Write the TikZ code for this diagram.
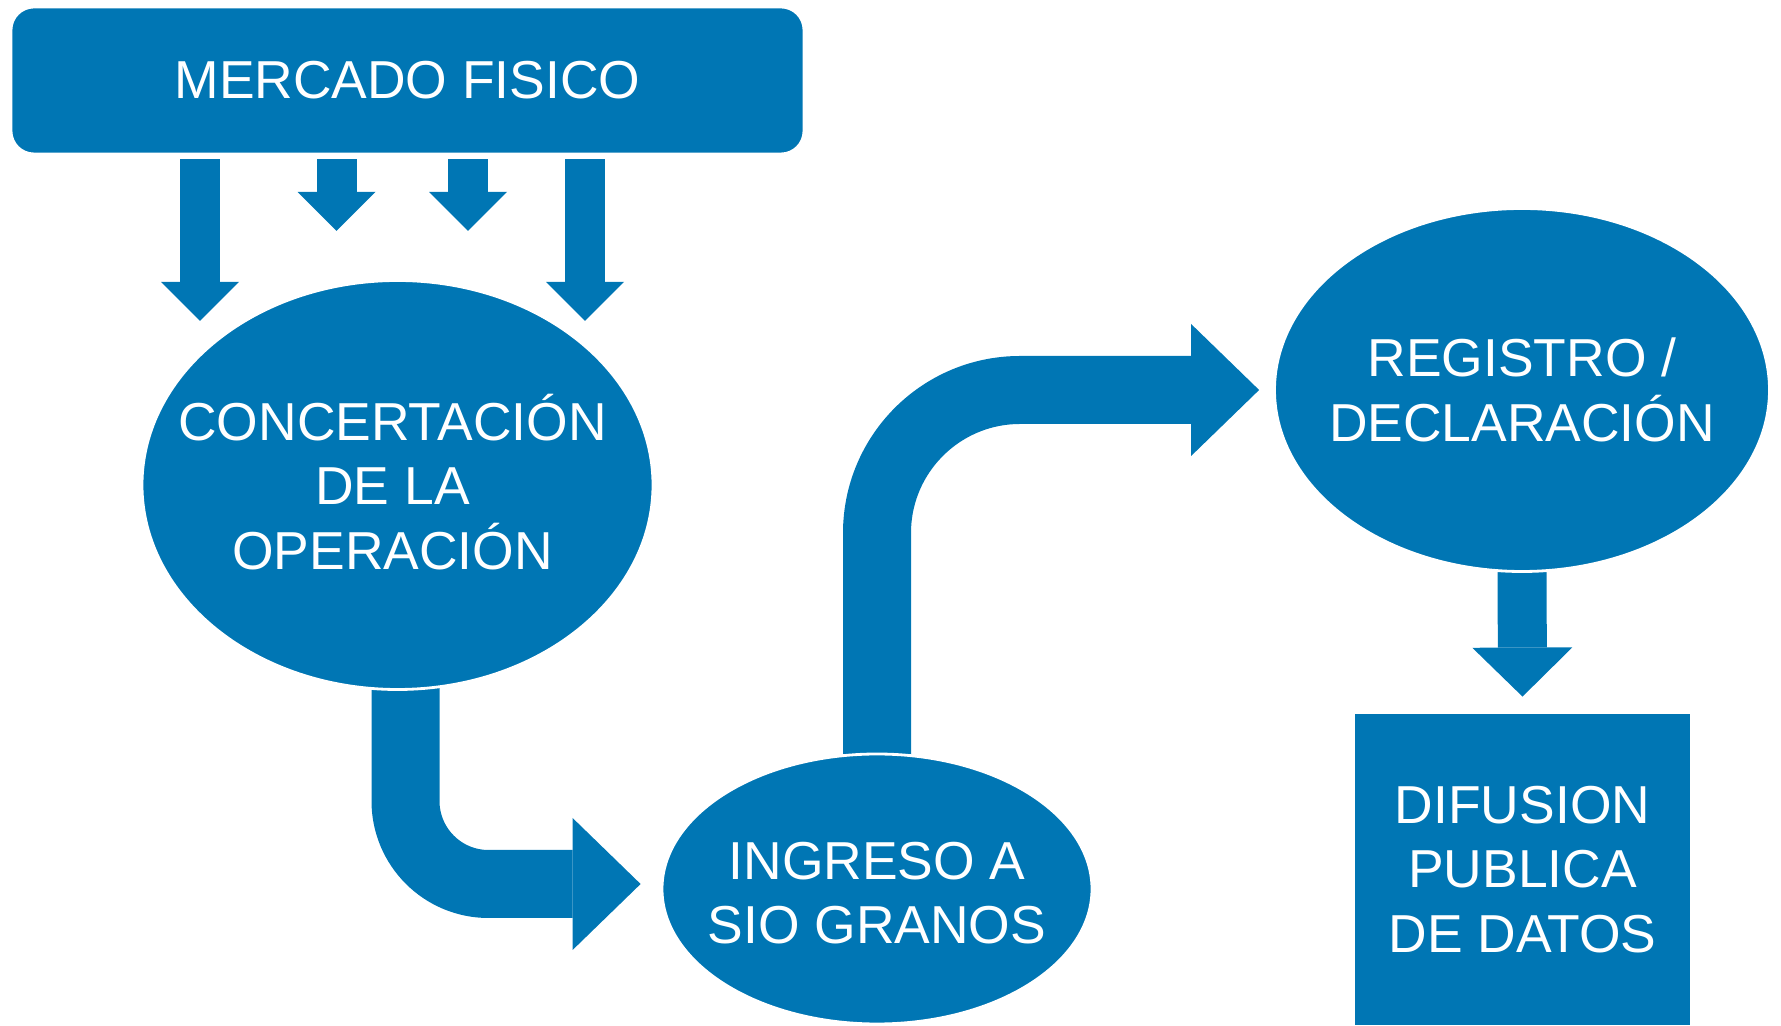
\documentclass[tikz,border=0pt]{standalone}
\usepackage{fontspec}
\setmainfont{Liberation Sans}
\usepackage{xcolor}
\usepackage{tikz}
\usetikzlibrary{shapes.geometric, arrows.meta, positioning, backgrounds}
\definecolor{sioblue}{RGB}{0, 118, 180}

\begin{document}
\begin{tikzpicture}[
    txt/.style={text=white, align=center, font=\fontsize{15.2}{18.4}\selectfont},
    box/.style={rectangle, fill=sioblue, draw=white, line width=0.8pt, inner sep=0pt, txt},
    oval/.style={ellipse, fill=sioblue, draw=white, line width=0.8pt, inner sep=0pt},
    downarr/.style={draw=sioblue, line width=0.40cm, -{Triangle[length=0.39cm, width=0.78cm, line width=0pt]}},
    midarr/.style={draw=sioblue, line width=0.49cm, -{Triangle[length=0.49cm, width=1.0cm, line width=0pt]}},
    bigarr/.style={draw=sioblue, line width=0.68cm, rounded corners=#1, -{Triangle[length=0.68cm, width=1.32cm, line width=0pt]}},
]
\useasboundingbox (0,0) rectangle (17.81,-10.26);

% Shapes
\node[box, rounded corners=0.23cm, minimum width=7.93cm, minimum height=1.47cm] (merc) at (4.075,-0.805) {MERCADO FISICO};
\node[oval, minimum width=5.11cm, minimum height=4.09cm, label={[txt, xshift=-0.5mm, yshift=0.3mm]center:CONCERTACIÓN\\DE LA\\OPERACIÓN}] (conc) at (3.975,-4.85) {};
\node[oval, minimum width=4.30cm, minimum height=2.70cm, label={[txt, yshift=-0.4mm]center:INGRESO A\\SIO GRANOS}] (ing) at (8.77,-8.89) {};
\node[oval, minimum width=4.95cm, minimum height=3.63cm, label={[txt]center:REGISTRO /\\DECLARACIÓN}] (reg) at (15.22,-3.90) {};
\node[box, minimum width=3.37cm, minimum height=3.13cm] (dif) at (15.225,-8.695) {DIFUSION\\PUBLICA\\DE DATOS};

% Free ends of the top arrows
\coordinate (t1) at (2.00,-3.21);
\coordinate (t2) at (3.365,-2.31);
\coordinate (t3) at (4.68,-2.31);
\coordinate (t4) at (5.85,-3.21);

% Connectors
\begin{scope}[on background layer]
\foreach \t in {t1,t2,t3,t4}
    \draw[downarr, shorten <=0.4mm] (merc.south -| \t) -- (\t);
\draw[bigarr=0.83cm] ([xshift=0.8mm, yshift=1mm]conc.south) |- ([xshift=-2mm, yshift=0.5mm]ing.west);
\draw[bigarr=1.43cm] ([yshift=-1mm]ing.north) |- ([xshift=-1.4mm]reg.west);
\draw[midarr] ([yshift=1mm]reg.south) -- ([yshift=1.5mm]dif.north);
\end{scope}

\end{tikzpicture}
\end{document}
